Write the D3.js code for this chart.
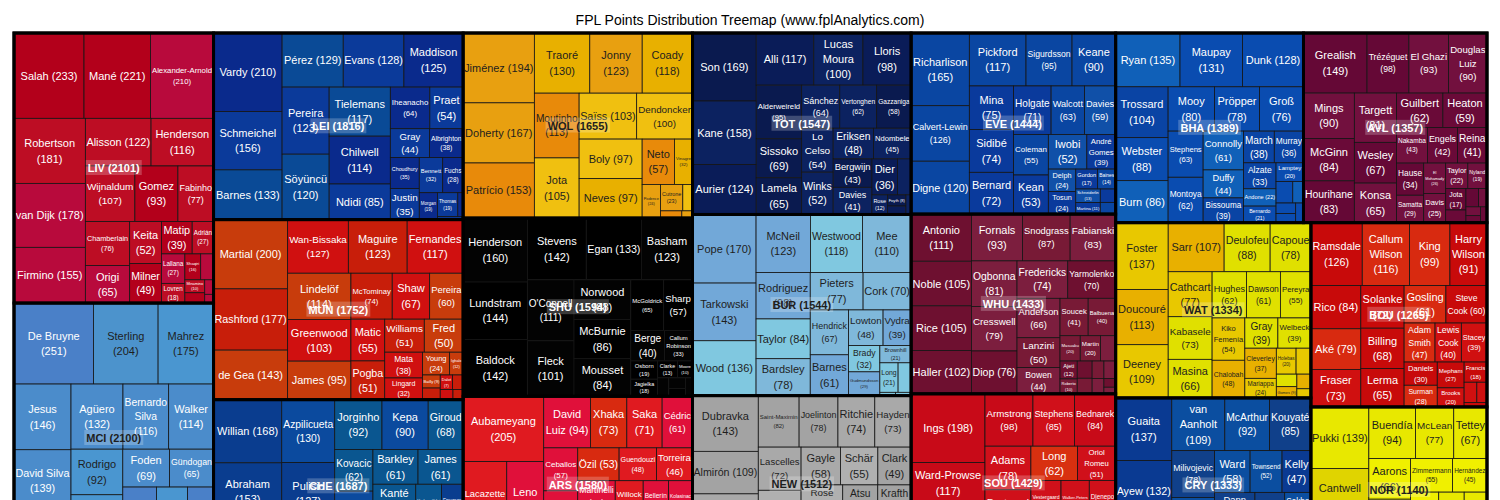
<!DOCTYPE html>
<html>
<head>
<meta charset="utf-8">
<title>FPL Points Distribution Treemap</title>
<script src="https://cdn.jsdelivr.net/npm/d3@7"></script>
<style>
  html, body { margin: 0; padding: 0; background: #fff; overflow: hidden; }
  svg { display: block; font-family: "Liberation Sans", Arial, sans-serif; }
</style>
</head>
<body>
<div id="graf"></div>
<script>
// Treemap de puntos FPL: equipos -> jugadores

// Equipos (orden de la leyenda original)
const teams = ['LIV', 'MCI', 'LEI', 'MUN', 'CHE', 'WOL', 'SHU', 'ARS', 'TOT', 'BUR',
               'NEW', 'EVE', 'WHU', 'SOU', 'BHA', 'WAT', 'CRY', 'AVL', 'BOU', 'NOR']

// Jugadores de cada equipo: [nombre, puntos]
const LIV = [['Salah', 233], ['Mané', 221], ['Alexander-Arnold', 210], ['Robertson', 181], ['van Dijk', 178],
  ['Firmino', 155], ['Alisson', 122], ['Henderson', 116], ['Wijnaldum', 107], ['Gomez', 93], ['Fabinho', 77],
  ['Chamberlain', 76], ['Origi', 65], ['Keita', 52], ['Milner', 49], ['Matip', 39], ['Adrián', 27], ['Lallana', 27],
  ['Lovren', 18], ['Shaqiri', 16], ['Jones', 13], ['Minamino', 10], ['Williams', 8], ['Elliott', 5], ['Kelleher', 3]]
const MCI = [['De Bruyne', 251], ['Sterling', 204], ['Mahrez', 175], ['Jesus', 146], ['David Silva', 139],
  ['Ederson', 135], ['Agüero', 132], ['Bernardo Silva', 116], ['Walker', 114], ['Rodrigo', 92], ['Fernandinho', 84],
  ['Otamendi', 74], ['Foden', 69], ['Gündogan', 65], ['Laporte', 58], ['Cancelo', 55], ['Zinchenko', 50],
  ['Stones', 42], ['Mendy', 40], ['Bravo', 25], ['García', 20], ['Sané', 14]]
const LEI = [['Vardy', 210], ['Schmeichel', 156], ['Barnes', 133], ['Pérez', 129], ['Evans', 128], ['Maddison', 125],
  ['Pereira', 123], ['Söyüncü', 120], ['Tielemans', 117], ['Chilwell', 114], ['Ndidi', 85], ['Iheanacho', 64],
  ['Praet', 54], ['Gray', 44], ['Albrighton', 38], ['Choudhury', 35], ['Justin', 35], ['Bennett', 32], ['Fuchs', 28],
  ['Morgan', 19], ['Thomas', 19], ['Mendy', 5], ['Ward', 3]]
const MUN = [['Martial', 200], ['Rashford', 177], ['de Gea', 143], ['Wan-Bissaka', 127], ['Maguire', 123],
  ['Fernandes', 117], ['Lindelöf', 114], ['Greenwood', 103], ['James', 95], ['McTominay', 74], ['Shaw', 67],
  ['Pereira', 60], ['Matic', 55], ['Pogba', 51], ['Williams', 51], ['Fred', 50], ['Mata', 38], ['Lingard', 32],
  ['Young', 24], ['Ighalo', 12], ['Bailly', 9], ['Romero', 8], ['Dalot', 7], ['Tuanzebe', 6], ['Rojo', 5], ['Chong', 4]]
const CHE = [['Willian', 168], ['Abraham', 153], ['Mount', 140], ['Azpilicueta', 130], ['Pulisic', 127],
  ['Alonso', 101], ['Jorginho', 92], ['Kepa', 90], ['Giroud', 68], ['Kovacic', 62], ['Rüdiger', 61],
  ['Christensen', 61], ['Barkley', 61], ['James', 61], ['Kanté', 56], ['Pedro', 50], ['Tomori', 42],
  ['Hudson-Odoi', 38], ['Emerson', 32], ['Batshuayi', 28], ['Zouma', 24], ['Gilmour', 18], ['Caballero', 14],
  ['Loftus-Cheek', 10]]
const WOL = [['Jiménez', 194], ['Doherty', 167], ['Patrício', 153], ['Traoré', 130], ['Jonny', 123], ['Coady', 118],
  ['Moutinho', 113], ['Jota', 105], ['Saïss', 103], ['Dendoncker', 100], ['Boly', 97], ['Neves', 97], ['Neto', 57],
  ['Vinagre', 32], ['Podence', 24], ['Cutrone', 23], ['Bennett', 10], ['Gibbs-White', 6], ['Ruddy', 3]]
const SHU = [['Henderson', 160], ['Lundstram', 144], ['Baldock', 142], ['Stevens', 142], ['Egan', 133],
  ['Basham', 123], ["O'Connell", 111], ['Fleck', 101], ['Norwood', 88], ['McBurnie', 86], ['Mousset', 84],
  ['McGoldrick', 65], ['Sharp', 57], ['Berge', 40], ['Callum Robinson', 33], ['Osborn', 19], ['Jagielka', 18],
  ['Clarke', 13], ['Moore', 10], ['Bešić', 8], ['Zivkovic', 7], ['Freeman', 5], ['Verrips', 5]]
const ARS = [['Aubameyang', 205], ['Lacazette', 131], ['Leno', 111], ['Pépé', 108], ['David Luiz', 94],
  ['Xhaka', 73], ['Saka', 71], ['Cédric', 61], ['Ceballos', 57], ['Mustafi', 55], ['Sokratis', 54], ['Özil', 53],
  ['Guendouzi', 48], ['Torreira', 46], ['Martinelli', 46], ['Tierney', 45], ['Maitland-Niles', 44], ['Willock', 42],
  ['Bellerín', 38], ['Kolasinac', 36], ['Nelson', 33], ['Martínez', 30], ['Nketiah', 28], ['Holding', 24],
  ['Chambers', 20], ['Mari', 13], ['Lichtsteiner', 8], ['Smith Rowe', 6]]
const TOT = [['Son', 169], ['Kane', 158], ['Aurier', 124], ['Alli', 117], ['Lucas Moura', 100], ['Lloris', 98],
  ['Alderweireld', 95], ['Sissoko', 69], ['Lamela', 65], ['Sánchez', 64], ['Vertonghen', 62], ['Gazzaniga', 58],
  ['Lo Celso', 54], ['Winks', 52], ['Eriksen', 48], ['Ndombele', 45], ['Bergwijn', 43], ['Davies', 41], ['Dier', 36],
  ['Tanganga', 19], ['Rose', 12], ['Foyth', 8], ['Sessegnon', 6], ['Skipp', 4]]
const BUR = [['Pope', 170], ['Tarkowski', 143], ['Wood', 136], ['McNeil', 123], ['Westwood', 118], ['Mee', 110],
  ['Rodriguez', 98], ['Taylor', 84], ['Bardsley', 78], ['Pieters', 77], ['Cork', 70], ['Hendrick', 67],
  ['Barnes', 61], ['Lowton', 48], ['Vydra', 39], ['Brady', 32], ['Gudmundsson', 29], ['Brownhill', 21],
  ['Long', 21], ['Lennon', 15], ['Hart', 2], ['Drinkwater', 2]]
const NEW = [['Dubravka', 143], ['Almirón', 109], ['Shelvey', 104], ['Fernández', 99], ['Saint-Maximin', 82],
  ['Joelinton', 78], ['Ritchie', 74], ['Hayden', 73], ['Lascelles', 72], ['Willems', 70], ['Longstaff', 68],
  ['Gayle', 58], ['Schär', 55], ['Clark', 49], ['Rose', 48], ['Yedlin', 48], ['Lejeune', 47], ['Atsu', 42],
  ['Krafth', 40], ['Carroll', 36], ['Dummett', 34], ['Manquillo', 30], ['Darlow', 22], ['Muto', 17],
  ['Joselu', 8], ['Bentaleb', 6]]
const EVE = [['Richarlison', 165], ['Calvert-Lewin', 126], ['Digne', 120], ['Pickford', 117], ['Sigurdsson', 95],
  ['Keane', 90], ['Mina', 75], ['Sidibé', 74], ['Bernard', 72], ['Holgate', 71], ['Walcott', 63], ['Davies', 59],
  ['Coleman', 55], ['Kean', 53], ['Iwobi', 52], ['André Gomes', 39], ['Delph', 24], ['Tosun', 24], ['Gordon', 17],
  ['Baines', 14], ['Schneiderlin', 13], ['Martina', 11], ['Gbamin', 8], ['Lössl', 7]]
const WHU = [['Antonio', 111], ['Noble', 105], ['Rice', 105], ['Haller', 102], ['Fornals', 93], ['Snodgrass', 87],
  ['Fabianski', 83], ['Ogbonna', 81], ['Cresswell', 79], ['Diop', 76], ['Fredericks', 74], ['Yarmolenko', 70],
  ['Anderson', 66], ['Lanzini', 50], ['Bowen', 44], ['Soucek', 41], ['Balbuena', 40], ['Masuaku', 20], ['Martin', 20],
  ['Zabaleta', 15], ['Ajeti', 12], ['Roberto', 10], ['Sánchez', 10], ['Wilshere', 9], ['Johnson', 8],
  ['Randolph', 8], ['Ngakia', 7], ['Silva', 4], ['Coventry', 3]]
const SOU = [['Ings', 198], ['Ward-Prowse', 117], ['Redmond', 101], ['McCarthy', 100], ['Armstrong', 98],
  ['Stephens', 85], ['Bednarek', 84], ['Adams', 78], ['Bertrand', 76], ['Højbjerg', 73], ['Long', 62],
  ['Oriol Romeu', 51], ['Vestergaard', 48], ['Walker-Peters', 45], ['Djenepo', 42], ['Obafemi', 38], ['Valery', 35],
  ['Cédric', 30], ['Boufal', 25], ['Smallbone', 15], ['Gunn', 10], ['Danso', 8], ['Yoshida', 6], ['Ramsay', 4]]
const BHA = [['Ryan', 135], ['Maupay', 131], ['Dunk', 128], ['Trossard', 104], ['Webster', 88], ['Burn', 86],
  ['Mooy', 80], ['Pröpper', 78], ['Groß', 76], ['Stephens', 63], ['Montoya', 62], ['Connolly', 61], ['Duffy', 44],
  ['Bissouma', 39], ['March', 38], ['Murray', 36], ['Alzate', 33], ['Andone', 22], ['Bernardo', 21], ['Lamptey', 20],
  ['Jahanbakhsh', 14], ['Button', 9], ['Schelotto', 8], ['Balogun', 7], ['Bong', 6]]
const WAT = [['Foster', 137], ['Doucouré', 113], ['Deeney', 109], ['Sarr', 107], ['Deulofeu', 88], ['Capoue', 78],
  ['Cathcart', 77], ['Kabasele', 73], ['Masina', 66], ['Hughes', 62], ['Dawson', 61], ['Pereyra', 55],
  ['Kiko Femenía', 54], ['Chalobah', 48], ['Gray', 39], ['Welbeck', 39], ['Cleverley', 37], ['Mariappa', 24],
  ['Holebas', 20], ['Janmaat', 15], ['Success', 10], ['Gomes', 9], ['Pussetto', 8], ['Quina', 5]]
const CRY = [['Guaita', 137], ['Ayew', 132], ['Zaha', 114], ['van Aanholt', 109], ['McArthur', 92], ['Kouyaté', 85],
  ['Milivojevic', 78], ['Cahill', 66], ['Tomkins', 60], ['Ward', 58], ['Townsend', 52], ['Kelly', 47], ['Dann', 45],
  ['Schlupp', 42], ['McCarthy', 40], ['Benteke', 34], ['Sakho', 30], ['Meyer', 28], ['Riedewald', 24],
  ['Wickham', 23], ['Mitchell', 14], ['Hennessey', 10], ['Pierrick', 8], ['Woods', 5]]
const AVL = [['Grealish', 149], ['Trézéguet', 98], ['El Ghazi', 93], ['Douglas Luiz', 90], ['Mings', 90],
  ['McGinn', 84], ['Hourihane', 83], ['Targett', 81], ['Wesley', 67], ['Konsa', 65], ['Guilbert', 62], ['Heaton', 59],
  ['Nakamba', 43], ['Engels', 42], ['Reina', 41], ['Hause', 34], ['Samatta', 29], ['El Mohamady', 26], ['Davis', 25],
  ['Taylor', 22], ['Nyland', 19], ['Jota', 17], ['Lansbury', 10], ['Kodjia', 9], ['Drinkwater', 6], ['Vassilev', 5],
  ['Chester', 4], ['Steer', 4]]
const BOU = [['Ramsdale', 126], ['Callum Wilson', 116], ['King', 99], ['Harry Wilson', 91], ['Rico', 84], ['Aké', 79],
  ['Fraser', 73], ['Solanke', 72], ['Billing', 68], ['Lerma', 65], ['Gosling', 61], ['Steve Cook', 60],
  ['Adam Smith', 47], ['Lewis Cook', 40], ['Stacey', 39], ['Daniels', 30], ['Surman', 28], ['Mepham', 27],
  ['Brooks', 20], ['Francis', 18], ['Danjuma', 10], ['Kelly', 8], ['Ibe', 4]]
const NOR = [['Pukki', 139], ['Cantwell', 124], ['Krul', 112], ['Buendía', 94], ['McLean', 77], ['Tettey', 67],
  ['Aarons', 66], ['Godfrey', 62], ['Lewis', 58], ['Zimmermann', 55], ['Hernández', 45], ['Byram', 42],
  ['Amadou', 38], ['Trybull', 34], ['Vrančić', 30], ['Stiepermann', 28], ['Leitner', 26], ['Drmić', 22],
  ['Idah', 10], ['Rupp', 6], ['Klose', 5]]

const squads = { LIV, MCI, LEI, MUN, CHE, WOL, SHU, ARS, TOT, BUR, NEW, EVE, WHU, SOU, BHA, WAT, CRY, AVL, BOU, NOR }

// Tonos de cada equipo (el jugador toma uno de ellos)
const palettes = {
  LIV: ['#b3001b', '#b80a3c', '#bd0d24'],
  MCI: ['#4c93cc', '#4a80c8', '#4a96d0', '#4b8ccb'],
  LEI: ['#0a2a8c', '#0b3a9a', '#0a4a96'],
  MUN: ['#c81e0a', '#c83c0c', '#d01010'],
  CHE: ['#0a3d8f', '#0a5690', '#0b4a9e'],
  WOL: ['#e8a010', '#f0c010', '#e88a0a', '#e8b000'],
  SHU: ['#000000', '#030303'],
  ARS: ['#e0103a', '#d82a10', '#e01a20'],
  TOT: ['#0a1a4f', '#0c2260', '#0a1c58'],
  BUR: ['#7fb8da', '#80c8e0', '#72a8d8'],
  NEW: ['#a9a9a9', '#b0b0b0', '#a3a3a3'],
  EVE: ['#0a3a9c', '#1050a8', '#0a46a2'],
  WHU: ['#781a36', '#6e1030', '#7c1e3e'],
  SOU: ['#d0101a', '#d83010', '#c80a18'],
  BHA: ['#0a4cb0', '#1060b8', '#0a44a4'],
  WAT: ['#e8c800', '#e0e000', '#e8b000'],
  CRY: ['#0a3a92', '#0b4ea0', '#10408a'],
  AVL: ['#6a0a38', '#72103e', '#650836'],
  BOU: ['#d01010', '#d82a10', '#c80a0a'],
  NOR: ['#e8e800', '#e0d400', '#f0f000']
}

const ancho_total = 1500, alto_total = 600
const margins = { top: 33, left: 14 }
const ancho = 1473, alto = 540
const BASE = 11, LH = 1.4

const svg = d3.select('#graf').append('svg')
  .attr('width', ancho_total)
  .attr('height', alto_total)

svg.append('text')
  .attr('x', 750).attr('y', 25)
  .attr('text-anchor', 'middle')
  .attr('font-size', 14)
  .attr('fill', '#000')
  .text('FPL Points Distribution Treemap (www.fplAnalytics.com)')

const g = svg.append('g')
  .attr('transform', `translate(${margins.left}, ${margins.top})`)

// Jerarquía
const data = {
  name: 'FPL',
  children: teams.map(t => ({ name: t, children: squads[t].map(([name, pts]) => ({ name, pts })) }))
}
const root = d3.hierarchy(data)
  .sum(d => d.pts || 0)
  .sort((a, b) => b.value - a.value)

// Algoritmo "pivot by size": el mayor es el pivote, L2 se elige
// para que el pivote quede lo más cuadrado posible
function pivotBySize(parent, x0, y0, x1, y1) {
  pivot(parent.children, x0, y0, x1, y1)
}

function place(n, x0, y0, x1, y1) {
  n.x0 = x0; n.y0 = y0; n.x1 = x1; n.y1 = y1
}

function pivot(nodes, x0, y0, x1, y1) {
  if (!nodes.length) return
  if (nodes.length === 1) { place(nodes[0], x0, y0, x1, y1); return }
  const total = d3.sum(nodes, d => d.value)
  const dx = x1 - x0, dy = y1 - y0
  const wide = dx > dy
  const p = nodes[0], rest = nodes.slice(1)
  let best = 0, bestRatio = Infinity, acc = p.value
  for (let k = 0; k <= rest.length; k++) {
    if (k > 0) acc += rest[k - 1].value
    const pw = wide ? acc / total * dx : p.value / acc * dx
    const ph = wide ? p.value / acc * dy : acc / total * dy
    const r = Math.max(pw / ph, ph / pw)
    if (r < bestRatio) { bestRatio = r; best = k }
  }
  const l2 = rest.slice(0, best), l3 = rest.slice(best)
  const s = p.value + d3.sum(l2, d => d.value)
  if (wide) {
    const xm = x0 + s / total * dx, ym = y0 + p.value / s * dy
    place(p, x0, y0, xm, ym)
    pivot(l2, x0, ym, xm, y1)
    pivot(l3, xm, y0, x1, y1)
  } else {
    const ym = y0 + s / total * dy, xm = x0 + p.value / s * dx
    place(p, x0, y0, xm, ym)
    pivot(l2, xm, y0, x1, ym)
    pivot(l3, x0, ym, x1, y1)
  }
}

d3.treemap().size([ancho, alto]).tile(pivotBySize)(root)

// medir textos
const ctx = document.createElement('canvas').getContext('2d')
function textW(s, size, bold) {
  ctx.font = `${bold ? 'bold ' : ''}${size}px "Liberation Sans"`
  return ctx.measureText(s).width
}

function splits(words, n) {
  if (n === 1) return [[words.join(' ')]]
  const out = []
  for (let i = 1; i <= words.length - n + 1; i++) {
    splits(words.slice(i), n - 1).forEach(r => out.push([words.slice(0, i).join(' '), ...r]))
  }
  return out
}

// corte en dos líneas: el espacio más cercano a la mitad del texto
function halfSplit(label) {
  const mid = label.length / 2
  let at = -1, dist = Infinity
  for (let i = 0; i < label.length; i++) {
    if (label[i] === ' ' && Math.abs(i - mid) < dist) { dist = Math.abs(i - mid); at = i }
  }
  return [label.slice(0, at), label.slice(at + 1)]
}

// una línea si cabe; si no, el menor número de líneas que quepa
// casi sin encoger, o la opción que permita la letra más grande
function fitLabel(label, w, h) {
  const words = label.split(' ')
  const lhBase = BASE * LH
  const oneW = textW(label, BASE)
  const s1 = Math.min(w / oneW, (h - 1) / lhBase)
  const draw1 = Math.min(1, (w - 2) / oneW, (h - 2) / lhBase)
  if (s1 >= 0.995 || words.length === 1) return { lines: [label], s: draw1 }
  const cands = []
  for (let n = 2; n <= Math.min(words.length, 4); n++) {
    let best = null
    if (n === 2) {
      const lines = halfSplit(label)
      best = { lines, mw: d3.max(lines, l => textW(l, BASE)) }
    } else {
      splits(words, n).forEach(lines => {
        const mw = d3.max(lines, l => textW(l, BASE))
        if (!best || mw < best.mw) best = { lines, mw }
      })
    }
    const raw = Math.min(w / best.mw, (h - 1) / (n * lhBase))
    const s = Math.min(1, (w - 3) / best.mw, (h - 2) / (n * lhBase))
    cands.push({ lines: best.lines, raw, s })
  }
  const ok = cands.find(c => c.raw >= 0.95)
  if (ok) return ok
  let pick = { lines: [label], raw: s1, s: draw1 }
  cands.forEach(c => { if (c.raw >= pick.raw - 0.003) pick = c })
  return pick
}

function shade(team, name) {
  const pal = palettes[team]
  let hsh = 7
  for (const ch of name) hsh = (hsh * 31 + ch.codePointAt(0)) % 9973
  return pal[hsh % pal.length]
}

const ink = c => d3.lab(c).l > 57 ? '#1e1e1e' : '#ffffff'

const leaves = root.leaves()
leaves.forEach(d => { d.fill = shade(d.parent.data.name, d.data.name) })

g.selectAll('rect.player')
  .data(leaves)
  .join('rect')
  .attr('class', 'player')
  .attr('x', d => d.x0)
  .attr('y', d => d.y0)
  .attr('width', d => d.x1 - d.x0)
  .attr('height', d => d.y1 - d.y0)
  .attr('fill', d => d.fill)
  .attr('stroke', '#151515')
  .attr('stroke-width', 0.8)

const labels = g.append('g')
leaves.forEach(d => {
  const w = d.x1 - d.x0, h = d.y1 - d.y0
  const f = fitLabel(`${d.data.name} (${d.value})`, w, h)
  const fs = BASE * f.s
  if (fs < 3.8) return
  const lh = fs * LH
  const cx = (d.x0 + d.x1) / 2, cy = (d.y0 + d.y1) / 2
  const t = labels.append('text')
    .attr('text-anchor', 'middle')
    .attr('font-size', fs.toFixed(2))
    .attr('fill', ink(d.fill))
  f.lines.forEach((line, i) => {
    t.append('tspan')
      .attr('x', cx)
      .attr('y', cy + (i - (f.lines.length - 1) / 2) * lh + fs * 0.36)
      .text(line)
  })
})

// bordes de equipos
g.selectAll('rect.team')
  .data(root.children)
  .join('rect')
  .attr('class', 'team')
  .attr('x', d => d.x0)
  .attr('y', d => d.y0)
  .attr('width', d => d.x1 - d.x0)
  .attr('height', d => d.y1 - d.y0)
  .attr('fill', 'none')
  .attr('stroke', '#000')
  .attr('stroke-width', 3)

g.append('rect')
  .attr('width', ancho).attr('height', alto)
  .attr('fill', 'none').attr('stroke', '#000').attr('stroke-width', 3)

// etiquetas de equipo
root.children.forEach(d => {
  const label = `${d.data.name} (${d.value})`
  const tw = textW(label, 11, true)
  const cx = (d.x0 + d.x1) / 2, cy = (d.y0 + d.y1) / 2
  g.append('rect')
    .attr('x', cx - tw / 2 - 2).attr('y', cy - 8)
    .attr('width', tw + 4).attr('height', 15)
    .attr('fill', '#fff').attr('fill-opacity', 0.22)
  g.append('text')
    .attr('x', cx).attr('y', cy + 4)
    .attr('text-anchor', 'middle')
    .attr('font-size', 11)
    .attr('font-weight', 'bold')
    .attr('fill', ink(palettes[d.data.name][0]))
    .text(label)
})
</script>
</body>
</html>
